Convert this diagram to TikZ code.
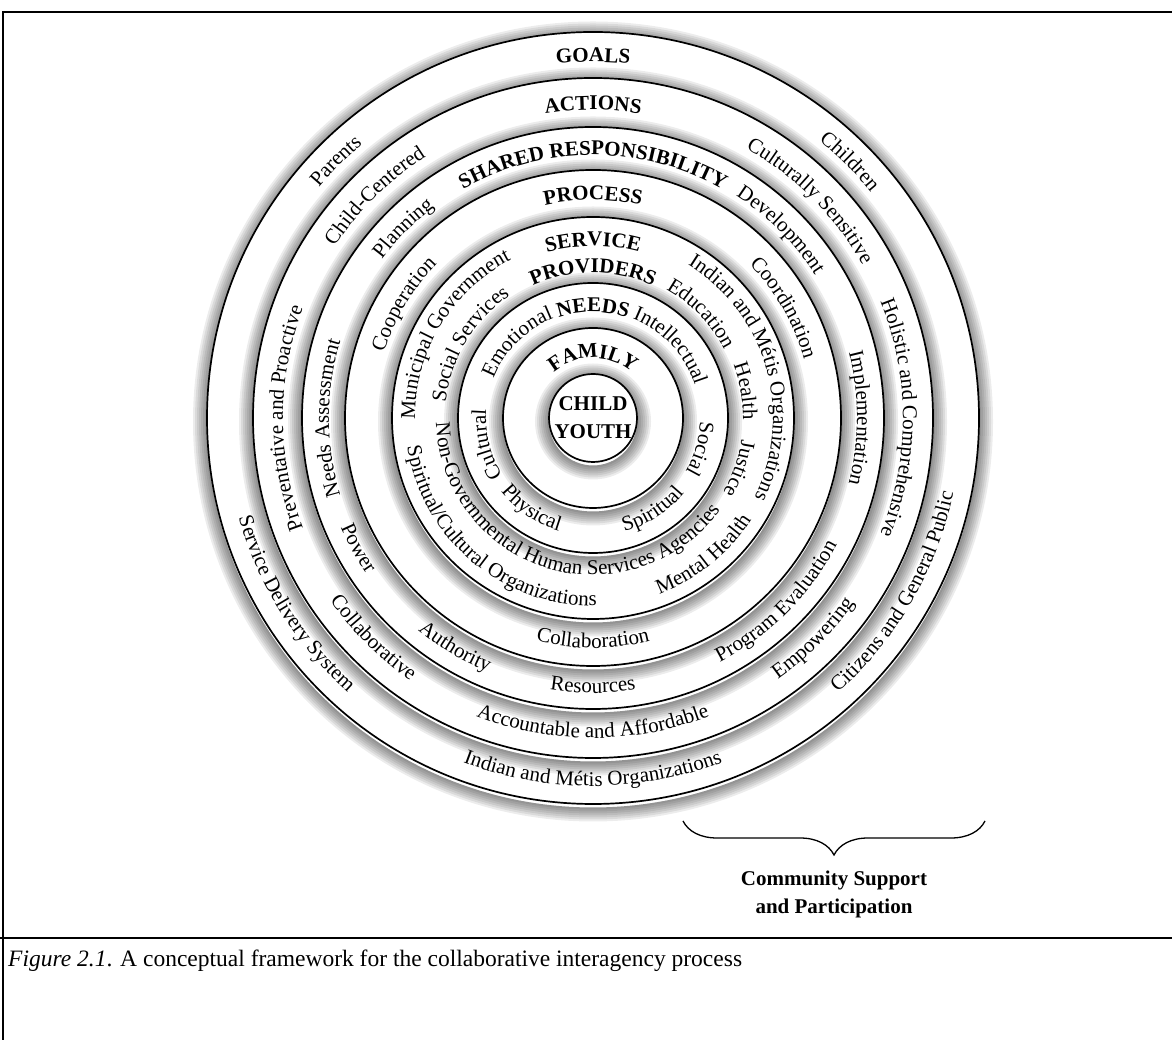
\documentclass[tikz,border=0pt]{standalone}
\usepackage{fontspec}
\setmainfont{Liberation Serif}
\usetikzlibrary{decorations.text,decorations.pathreplacing}

\newcommand\labelfont{\fontsize{21}{25}\selectfont}
\newcommand\headfont{\bfseries\fontsize{21}{25}\selectfont}

% text set on a ring: cw reads over the top, ccw reads under the bottom
% #2 = angle of the middle of the text, #3 = baseline radius
\newcommand\cwtext[4][\labelfont]{%
  \path[decorate,decoration={text along path,text align=center,text={|#1|#4}}]
    (#2+80:#3pt) arc[start angle=#2+80,end angle=#2-80,radius=#3pt];}
\newcommand\ccwtext[4][\labelfont]{%
  \path[decorate,decoration={text along path,text align=center,text={|#1|#4}}]
    (#2-80:#3pt) arc[start angle=#2-80,end angle=#2+80,radius=#3pt];}

\tikzset{
  ringline/.style={line width=1.7pt},
  framerule/.style={line width=2.4pt}
}

\begin{document}
\begin{tikzpicture}[x=1pt,y=1pt]
\useasboundingbox (0,0) rectangle (1172,1040);

% Frame
\draw[framerule] (3,0) -- (3,1028) -- (1172,1028);
\draw[framerule] (0,102) -- (1172,102);

\begin{scope}[shift={(593,622)}]
% Rings, outermost first, each with a soft shadow
\foreach \r in {386,340,291,248,201,135,90,44}{
  \foreach \k in {1,...,7}
    \draw[black,opacity=0.075,line width=2*\k pt] (0,-3.5) circle[radius=\r pt+\k pt];
  \fill[white] (0,0) circle[radius=\r pt];
  \draw[ringline] (0,0) circle[radius=\r pt];
}

% Goals
\cwtext[\headfont]{90}{356}{GOALS}
\cwtext{135}{358}{Parents}
\cwtext{45}{358}{Children}
\ccwtext{212}{368}{Service Delivery System}
\ccwtext{270}{368}{Indian and Métis Organizations}
\ccwtext{330}{368}{Citizens and General Public}

% Actions
\cwtext[\headfont]{90}{308}{ACTIONS}
\cwtext{134.5}{310}{Child-Centered}
\cwtext{45}{310}{Culturally Sensitive}
\cwtext{180}{310}{Preventative and Proactive}
\cwtext{0}{310}{Holistic and Comprehensive}
\ccwtext{225}{320}{Collaborative}
\ccwtext{270}{320}{Accountable and Affordable}
\ccwtext{315}{320}{Empowering}

% Shared responsibility
\cwtext[\headfont]{90}{263}{SHARED RESPONSIBILITY}
\cwtext{135}{264}{Planning}
\cwtext{45}{264}{Development}
\cwtext{180}{264}{Needs Assessment}
\cwtext{0}{264}{Implementation}
\ccwtext{209}{275}{Power}
\ccwtext{239}{275}{Authority}
\ccwtext{270}{275}{Resources}
\ccwtext{315}{275}{Program Evaluation}

% Process
\cwtext[\headfont]{90}{218}{PROCESS}
\cwtext{149}{219}{Cooperation}
\cwtext{30}{219}{Coordination}
\ccwtext{270}{230}{Collaboration}

% Service providers (two lines)
\cwtext[\headfont]{90}{172}{SERVICE}
\cwtext[\headfont]{90}{145}{PROVIDERS}
\cwtext{149}{178}{Municipal Government}
\cwtext{149}{148}{Social Services}
\cwtext{16}{180}{Indian and Métis Organizations}
\cwtext{44}{148}{Education}
\cwtext{10}{150}{Health}
\cwtext{-19}{150}{Justice}
\ccwtext{253}{157}{Non-Governmental Human Services Agencies}
\ccwtext{230}{188}{Spiritual/Cultural Organizations}
\ccwtext{309}{188}{Mental Health}

% Needs
\cwtext{135}{107}{Emotional}
\cwtext[\headfont]{90}{106}{NEEDS}
\cwtext{43}{107}{Intellectual}
\cwtext{194}{107}{Cultural}
\ccwtext{236}{118}{Physical}
\ccwtext{303}{118}{Spiritual}
\cwtext{344}{107}{Social}

% Family
\cwtext[\headfont]{90}{60}{FAMILY}
\end{scope}

\node[font={\bfseries\fontsize{21}{28}\selectfont},align=center] (child) at (593,622) {CHILD\\YOUTH};

% Brace
\coordinate (braceL) at (683,219);
\coordinate (braceR) at (985,219);
\draw[decorate,decoration={brace,mirror,amplitude=34pt},line width=1.3pt] (braceL) -- (braceR);
\node[font={\bfseries\fontsize{21}{28}\selectfont},align=center] (community) at (834,146) {Community Support\\and Participation};

% Caption
\node[anchor=base west,font={\fontsize{23.5}{28}\selectfont},inner sep=0pt] (caption) at (8,73)
  {\textit{Figure 2.1}. A conceptual framework for the collaborative interagency process};
\end{tikzpicture}
\end{document}
